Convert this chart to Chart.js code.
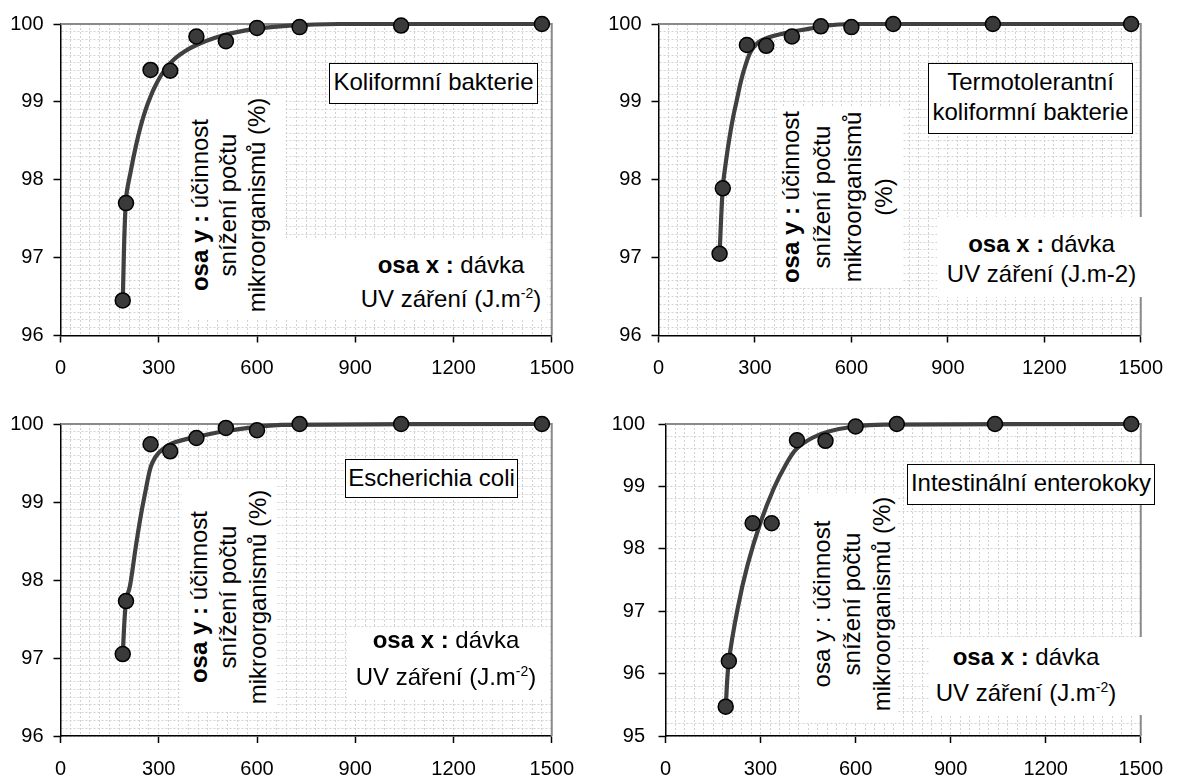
<!DOCTYPE html>
<html><head><meta charset="utf-8">
<script src="https://cdn.jsdelivr.net/npm/chart.js@4.4.1/dist/chart.umd.min.js"></script>
<style>
html,body{margin:0;padding:0;}
body{width:1177px;height:776px;background:#fff;position:relative;overflow:hidden;font-family:"Liberation Sans",Arial,sans-serif;}
.pane{position:absolute;}
.box{position:absolute;background:#fff;box-sizing:border-box;}
.box.bd{border:1px solid #000;}
.ln{position:absolute;white-space:nowrap;font-size:24px;line-height:24px;color:#000;}
.ln sup{font-size:14px;line-height:0;vertical-align:0;position:relative;top:-9px;}
</style></head>
<body>
<canvas id="c0" class="pane" width="588" height="388" style="left:0;top:0"></canvas>
<canvas id="c1" class="pane" width="589" height="388" style="left:588px;top:0"></canvas>
<canvas id="c2" class="pane" width="588" height="388" style="left:0;top:388px"></canvas>
<canvas id="c3" class="pane" width="589" height="388" style="left:588px;top:388px"></canvas>
<script>
// ---- data ----
const doses = [190, 200, 275, 335, 415, 505, 600, 730, 1040, 1470];
const koliformni   = [96.45, 97.70, 99.41, 99.40, 99.84, 99.78, 99.95, 99.96, 99.98, 100];
const termotoler   = [97.05, 97.89, 99.73, 99.72, 99.84, 99.97, 99.96, 100, 100, 100];
const ecoli        = [97.05, 97.73, 99.74, 99.65, 99.82, 99.95, 99.92, 100, 100, 100];
const enterokoky   = [95.47, 96.20, 98.41, 98.41, 99.74, 99.73, 99.96, 100, 100, 100];

// smoothed curves
const koliCurveX  = [190, 200, 215, 230, 245, 260, 275, 290, 310, 340, 380, 420, 470, 520, 600, 700, 850, 1470];
const koliCurveY  = [96.45, 97.75, 98.12, 98.43, 98.69, 98.90, 99.07, 99.21, 99.36, 99.52, 99.65, 99.74, 99.82, 99.88, 99.94, 99.98, 100, 100];
const termoCurveX = [190, 200, 210, 220, 232, 244, 256, 269, 289, 320, 390, 470, 520, 600, 1470];
const termoCurveY = [97.05, 97.90, 98.24, 98.52, 98.80, 99.03, 99.26, 99.45, 99.66, 99.79, 99.88, 99.94, 99.98, 100, 100];
const ecoliCurveX = [190, 200, 212, 230, 245, 260, 270, 280, 300, 340, 420, 520, 675, 1470];
const ecoliCurveY = [97.05, 97.73, 97.92, 98.43, 98.82, 99.15, 99.36, 99.50, 99.63, 99.75, 99.84, 99.92, 99.99, 100];
const enteroCurveX = [190, 200, 228, 259, 299, 342, 380, 413, 464, 515, 598, 690, 1470];
const enteroCurveY = [95.47, 96.20, 97.05, 97.74, 98.41, 98.97, 99.35, 99.60, 99.78, 99.88, 99.96, 99.99, 100];

const xTickLabels = [0, 300, 600, 900, 1200, 1500];
const yTickLabelsA = [96, 97, 98, 99, 100];
const yTickLabelsB = [95, 96, 97, 98, 99, 100];

Chart.defaults.font.family = '"Liberation Sans", Arial, sans-serif';
Chart.defaults.color = '#000';

const toPts = (xs, ys) => xs.map((x, i) => ({x: x, y: ys[i]}));
const isIn = (list, v) => list.some(t => Math.abs(t - v) < 1e-6);

const frame = {
  id: 'frame',
  beforeDatasetsDraw(chart) {
    const {ctx, chartArea: a} = chart;
    ctx.save();
    ctx.strokeStyle = '#8a8a8a';
    ctx.lineWidth = 2;
    ctx.beginPath();
    ctx.moveTo(a.left, a.top);
    ctx.lineTo(a.right, a.top);
    ctx.lineTo(a.right, a.bottom);
    ctx.stroke();
    ctx.restore();
  }
};

function makeChart(id, o) {
  const gridCommon = (labels) => ({
    color: '#d2d2d2', lineWidth: 1, tickLength: 7, tickWidth: 1.5,
    tickColor: c => (c.tick && isIn(labels, c.tick.value)) ? '#000' : 'rgba(0,0,0,0)'
  });
  new Chart(document.getElementById(id), {
    type: 'scatter',
    data: {datasets: [
      {data: toPts(doses, o.values), showLine: false, pointRadius: 7.5, pointHoverRadius: 7.5,
       pointBackgroundColor: '#3a3a3a', pointBorderColor: '#000', pointBorderWidth: 1.5,
       order: 0, clip: false},
      {data: toPts(o.curveX, o.curveY), showLine: true, borderColor: '#404040', borderWidth: 4.2,
       pointRadius: 0, tension: 0.35, fill: false, order: 1, clip: false}
    ]},
    options: {
      responsive: false, animation: false, devicePixelRatio: 1, events: [],
      plugins: {legend: {display: false}, tooltip: {enabled: false}},
      layout: {padding: {top: o.padTop, right: o.padRight, left: 0, bottom: 0}},
      scales: {
        x: {
          type: 'linear', position: 'bottom', min: 0, max: 1500,
          afterFit: s => { s.height = o.xAxisH; },
          ticks: {stepSize: 30, autoSkip: false, maxRotation: 0, minRotation: 0, padding: 14,
                  font: {size: 20}, color: '#000',
                  callback: v => isIn(xTickLabels, v) ? String(Math.round(v)) : ''},
          grid: gridCommon(xTickLabels),
          border: {color: '#000', width: 1.5, dash: [2, 2]}
        },
        y: {
          type: 'linear', position: 'left', min: o.ymin, max: 100,
          afterFit: s => { s.width = o.yAxisW; },
          ticks: {stepSize: o.yStep, autoSkip: false, padding: o.yPad,
                  font: {size: 20}, color: '#000',
                  callback: v => isIn(o.yLabels, v) ? String(Math.round(v)) : ''},
          grid: gridCommon(o.yLabels),
          border: {color: '#000', width: 1.5, dash: [2, 2]}
        }
      }
    },
    plugins: [frame]
  });
}

makeChart('c0', {values: koliformni, curveX: koliCurveX, curveY: koliCurveY, ymin: 96, yStep: 0.1,
  yLabels: yTickLabelsA, yAxisW: 60.5, padTop: 24, padRight: 33, xAxisH: 52.5, yPad: 10});
makeChart('c1', {values: termotoler, curveX: termoCurveX, curveY: termoCurveY, ymin: 96, yStep: 0.1,
  yLabels: yTickLabelsA, yAxisW: 70.5, padTop: 24, padRight: 24.7, xAxisH: 52.5, yPad: 10});
makeChart('c2', {values: ecoli, curveX: ecoliCurveX, curveY: ecoliCurveY, ymin: 96, yStep: 0.1,
  yLabels: yTickLabelsA, yAxisW: 60.5, padTop: 36, padRight: 33, xAxisH: 40, yPad: 10});
makeChart('c3', {values: enterokoky, curveX: enteroCurveX, curveY: enteroCurveY, ymin: 95, yStep: 0.2,
  yLabels: yTickLabelsB, yAxisW: 77.5, padTop: 36, padRight: 24, xAxisH: 40, yPad: 13.5});

// ---- text boxes ----
const BASE = 20.3; // baseline offset inside a 24px line box
function box(x, y, w, h, bordered) {
  const d = document.createElement('div');
  d.className = 'box' + (bordered ? ' bd' : '');
  d.style.left = x + 'px'; d.style.top = y + 'px';
  d.style.width = w + 'px'; d.style.height = h + 'px';
  document.body.appendChild(d);
}
function line(html, cx, baseline) {
  const d = document.createElement('div');
  d.className = 'ln';
  d.innerHTML = html;
  d.style.left = cx + 'px';
  d.style.top = (baseline - BASE) + 'px';
  d.style.transform = 'translateX(-50%)';
  document.body.appendChild(d);
}
function vline(html, baselineX, cy) {
  const d = document.createElement('div');
  d.className = 'ln';
  d.innerHTML = html;
  d.style.left = (baselineX - (BASE - 12)) + 'px';
  d.style.top = cy + 'px';
  d.style.transform = 'translate(-50%,-50%) rotate(-90deg)';
  document.body.appendChild(d);
}

// panel 1
box(329, 63, 209, 41, true);  line('Koliformní bakterie', 433.5, 90.7);
box(182, 95, 103, 225, false);
vline('<b>osa y :</b> účinnost', 208, 205);
vline('snížení počtu', 236.5, 205);
vline('mikroorganismů (%)', 265, 205);
box(285, 240, 262, 80, false);
line('<b>osa x :</b> dávka', 451, 273);
line('UV záření (J.m<sup>-2</sup>)', 451, 307);

// panel 2
box(928, 63, 205, 71, true);
line('Termotolerantní', 1030.5, 90.7);
line('koliformní bakterie', 1030.5, 120);
box(777, 107, 125, 180, false);
vline('<b>osa y :</b> účinnost', 799, 196.5);
vline('snížení počtu', 830, 196.5);
vline('mikroorganismů', 861, 196.5);
vline('(%)', 892, 196.5);
box(937, 217, 213, 80, false);
line('<b>osa x :</b> dávka', 1041.5, 252);
line('UV záření (J.m-2)', 1041.5, 282);

// panel 3
box(345, 459, 173, 39, true);  line('Escherichia coli', 431.5, 486);
box(182, 480, 95, 230, false);
vline('<b>osa y :</b> účinnost', 207, 596.5);
vline('snížení počtu', 236.5, 596.5);
vline('mikroorganismů (%)', 266, 596.5);
box(347, 627, 203, 73, false);
line('<b>osa x :</b> dávka', 446, 648);
line('UV záření (J.m<sup>-2</sup>)', 446, 685);

// panel 4
box(907, 464, 248, 41, true);  line('Intestinální enterokoky', 1031, 491.7);
box(800, 493, 98, 230, false);
vline('osa y : účinnost', 830, 603.5);
vline('snížení počtu', 860, 603.5);
vline('mikroorganismů (%)', 890, 603.5);
box(930, 637, 220, 78, false);
line('<b>osa x :</b> dávka', 1026, 665);
line('UV záření (J.m<sup>-2</sup>)', 1026, 701.7);
</script>
</body></html>
